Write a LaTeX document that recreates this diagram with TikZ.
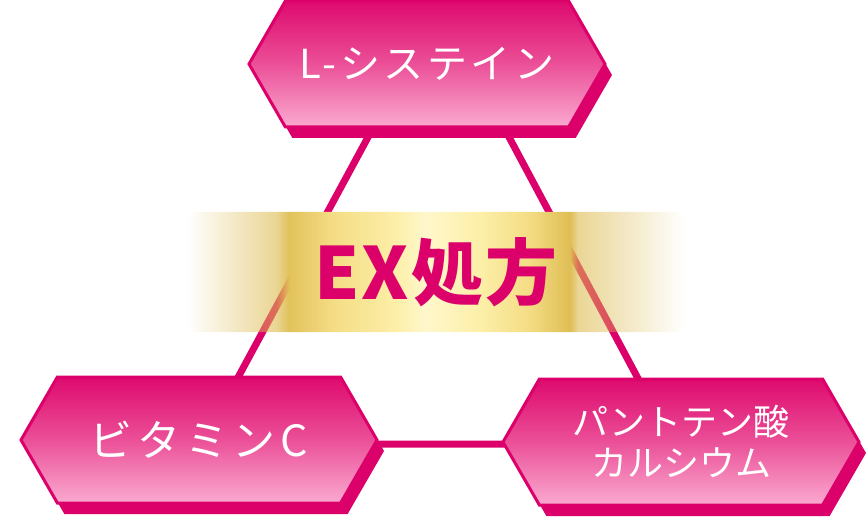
\documentclass[tikz,border=0pt]{standalone}
\usepackage{fontspec}
\usepackage{tikz}
\usetikzlibrary{shapes.symbols, shadows, fadings, backgrounds}
\newfontfamily\jpfont{Noto Sans CJK JP}
\definecolor{pinkdark}{HTML}{DC006B}
\definecolor{pinktop}{HTML}{DE0A6E}
\definecolor{pinkmid}{HTML}{EB5098}
\definecolor{pinkbot}{HTML}{FAAAD0}
\definecolor{bandgold}{HTML}{DCBA4E}
\definecolor{bandlight}{HTML}{F4DC84}
\definecolor{bandpale}{HTML}{FCEFA8}
\definecolor{bandcream}{HTML}{FFF7CC}
\pgfdeclarehorizontalshading{goldband}{100bp}{%
  color(0bp)=(bandgold); color(34bp)=(bandgold);
  color(39.5bp)=(bandlight); color(46bp)=(bandpale); color(49bp)=(bandcream);
  color(54.5bp)=(bandpale); color(59.5bp)=(bandlight); color(64bp)=(bandgold);
  color(100bp)=(bandgold)}
\pgfdeclarehorizontalshading{bandfadeshade}{100bp}{%
  color(0bp)=(transparent!100); color(25bp)=(transparent!100);
  color(34bp)=(transparent!40); color(35.3bp)=(transparent!0);
  color(63.4bp)=(transparent!0); color(64.2bp)=(transparent!40);
  color(75bp)=(transparent!100); color(100bp)=(transparent!100)}
\pgfdeclarefading{bandfade}{\pgfuseshading{bandfadeshade}}

\begin{document}
\begin{tikzpicture}[
x=1pt, y=-1pt,
hexbox/.style={shape=signal, signal to=west and east, signal pointer angle=120,
  minimum width=356pt, minimum height=126pt, inner sep=0pt,
  draw=pinkdark, line width=3pt,
  top color=pinktop, bottom color=pinkbot, middle color=pinkmid,
  general shadow={fill=pinkdark, shadow xshift=7pt, shadow yshift=-11pt},
  text=white, font=\jpfont\fontsize{40}{44}\selectfont},
link/.style={draw=pinkdark, line width=7pt},
band/.style={rectangle, rounded corners=10pt, minimum width=497pt, minimum height=120pt,
  shade, shading=goldband, path fading=bandfade,
  text=pinkdark, font=\jpfont\bfseries\fontsize{72}{72}\selectfont\addfontfeature{LetterSpace=3}},
]
\useasboundingbox (0,0) rectangle (868,532);
% nodes
\node[hexbox, font=\jpfont\fontsize{40}{44}\selectfont\addfontfeature{LetterSpace=9}] (cys) at (427,64) {L-システイン};
\node[hexbox, font=\jpfont\fontsize{43}{44}\selectfont\addfontfeature{LetterSpace=11}] (vitc) at (199,440) {ビタミンC};
\node[hexbox, align=center, font=\jpfont\fontsize{36}{41}\selectfont] (panto) at (681,442) {パントテン酸\\カルシウム};
\node[band] (ex) at (436,272) {EX処方};
% triangle
\coordinate (apex) at (439,6);
\coordinate (cornerL) at (202,444);
\coordinate (cornerR) at (673,444);
\begin{scope}[on background layer]
\draw[link] (apex) -- (cornerL) -- (cornerR) -- cycle;
\end{scope}
\end{tikzpicture}
\end{document}
